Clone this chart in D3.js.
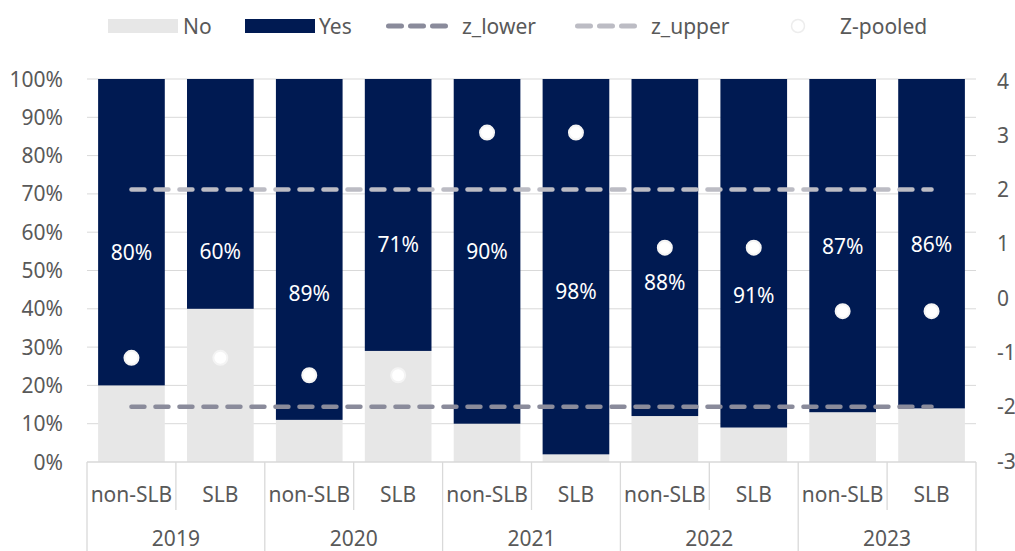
<!DOCTYPE html>
<html lang="en">
<head>
    <meta charset="UTF-8">
    <title>SLB vs non-SLB</title>
    <script src="https://d3js.org/d3.v7.min.js"></script>
    <style>
        body { margin: 0; background: #fff; font-family: 'Noto Sans', sans-serif; }
        .tick-label { font-size: 21px; fill: #595959; }
        .data-label { font-size: 21px; fill: #fff; text-anchor: middle; }
        .grid { stroke: #d9d9d9; stroke-width: 1; }
        .frame { stroke: #d9d9d9; stroke-width: 1.3; }
    </style>
</head>
<body>
    <div id="chart"></div>
    <script>
        const years = ["2019", "2020", "2021", "2022", "2023"];
        const groups = ["non-SLB", "SLB"];
        const yesShare = [80, 60, 89, 71, 90, 98, 88, 91, 87, 86];
        const zPooled = [-1.1, -1.1, -1.42, -1.42, 3.05, 3.05, 0.93, 0.93, -0.24, -0.24];
        const zLower = [-2, -2, -2, -2, -2, -2, -2, -2, -2, -2];
        const zUpper = [2, 2, 2, 2, 2, 2, 2, 2, 2, 2];
        // where the % labels sit, in left-axis percent
        const labelAt = [54.8, 55.1, 44.1, 56.7, 55.1, 44.6, 47, 43.6, 56.4, 56.9];
        const leftTicks = [0, 10, 20, 30, 40, 50, 60, 70, 80, 90, 100];
        const rightTicks = [-3, -2, -1, 0, 1, 2, 3, 4];

        const W = 1015, H = 551;
        const plot = {left: 87, right: 976, top: 79, bottom: 462};

        const cats = [];
        years.forEach(y => groups.forEach(g => cats.push({year: y, group: g})));
        cats.forEach((c, i) => {
            c.id = c.year + "-" + c.group;
            c.yes = yesShare[i];
            c.no = 100 - yesShare[i];
            c.z = zPooled[i];
            c.lo = zLower[i];
            c.hi = zUpper[i];
            c.lab = labelAt[i];
        });

        const svg = d3.select("#chart").append("svg")
            .attr("width", W).attr("height", H);

        const x = d3.scaleBand().domain(cats.map(c => c.id))
            .range([plot.left, plot.right]).paddingInner(0.25).paddingOuter(0.125);
        const y = d3.scaleLinear().domain([0, 100]).range([plot.bottom, plot.top]);
        const y2 = d3.scaleLinear().domain([-3, 4]).range([plot.bottom - 1, plot.top + 2]);
        const cx = d => x(d.id) + x.bandwidth() / 2;

        // gridlines
        svg.append("g").selectAll("line").data(leftTicks.slice(1)).join("line")
            .attr("class", "grid")
            .attr("x1", plot.left).attr("x2", plot.right)
            .attr("y1", d => y(d)).attr("y2", d => y(d));

        // left axis labels
        svg.append("g").selectAll("text").data(leftTicks).join("text")
            .attr("class", "tick-label")
            .attr("x", 63).attr("y", d => y(d)).attr("dy", "0.36em")
            .attr("text-anchor", "end")
            .text(d => d + "%");

        // right axis labels (secondary axis, runs off the page edge)
        svg.append("g").selectAll("text").data(rightTicks).join("text")
            .attr("class", "tick-label")
            .attr("x", 997).attr("y", d => y2(d)).attr("dy", "0.36em")
            .text(d => d);

        // bars
        const bars = svg.append("g").selectAll("g").data(cats).join("g");
        bars.append("rect")
            .attr("x", d => x(d.id)).attr("width", x.bandwidth())
            .attr("y", d => y(d.no)).attr("height", d => y(0) - y(d.no))
            .attr("fill", "#e7e7e7");
        bars.append("rect")
            .attr("x", d => x(d.id)).attr("width", x.bandwidth())
            .attr("y", d => y(100)).attr("height", d => y(d.no) - y(100))
            .attr("fill", "#001a52");
        bars.append("text")
            .attr("class", "data-label")
            .attr("x", cx).attr("y", d => y(d.lab)).attr("dy", "0.36em")
            .text(d => d.yes + "%");

        // threshold lines
        const line = key => d3.line().x(cx).y(d => y2(d[key]));
        svg.append("path").datum(cats).attr("d", line("lo"))
            .attr("fill", "none").attr("stroke", "#8a8b9b").attr("stroke-width", 4.5)
            .attr("stroke-linecap", "round").attr("stroke-dasharray", "13 11");
        svg.append("path").datum(cats).attr("d", line("hi"))
            .attr("fill", "none").attr("stroke", "#bcbcc4").attr("stroke-width", 4.5)
            .attr("stroke-linecap", "round").attr("stroke-dasharray", "13 11");

        // z-pooled points
        svg.append("g").selectAll("circle").data(cats).join("circle")
            .attr("cx", cx).attr("cy", d => y2(d.z)).attr("r", 7)
            .attr("fill", "#fff").attr("stroke", "#f4f4f4").attr("stroke-width", 2);

        // category axis frame
        const step = x.step();
        const fr = svg.append("g");
        fr.append("line").attr("class", "frame")
            .attr("x1", plot.left).attr("x2", plot.right)
            .attr("y1", plot.bottom).attr("y2", plot.bottom);
        d3.range(cats.length + 1).forEach(i => {
            const xx = plot.left + i * step;
            fr.append("line").attr("class", "frame")
                .attr("x1", xx).attr("x2", xx)
                .attr("y1", plot.bottom).attr("y2", i % 2 === 0 ? H : 510);
        });
        svg.append("g").selectAll("text").data(cats).join("text")
            .attr("class", "tick-label").attr("text-anchor", "middle")
            .attr("x", cx).attr("y", 494).attr("dy", "0.36em")
            .text(d => d.group);
        svg.append("g").selectAll("text").data(years).join("text")
            .attr("class", "tick-label").attr("text-anchor", "middle")
            .attr("x", (d, i) => plot.left + (i * 2 + 1) * step).attr("y", 538).attr("dy", "0.36em")
            .text(d => d);

        // legend
        const lg = svg.append("g").attr("class", "tick-label");
        const ly = 26;
        lg.append("rect").attr("x", 108).attr("y", ly - 7).attr("width", 70).attr("height", 14).attr("fill", "#e7e7e7");
        lg.append("text").attr("x", 183).attr("y", ly).attr("dy", "0.36em").text("No");
        lg.append("rect").attr("x", 245).attr("y", ly - 7).attr("width", 70).attr("height", 14).attr("fill", "#001a52");
        lg.append("text").attr("x", 319).attr("y", ly).attr("dy", "0.36em").text("Yes");
        lg.append("line").attr("x1", 388.5).attr("x2", 446).attr("y1", ly).attr("y2", ly)
            .attr("stroke", "#8a8b9b").attr("stroke-width", 5).attr("stroke-linecap", "round")
            .attr("stroke-dasharray", "13 9");
        lg.append("text").attr("x", 462).attr("y", ly).attr("dy", "0.36em").text("z_lower");
        lg.append("line").attr("x1", 577.5).attr("x2", 635).attr("y1", ly).attr("y2", ly)
            .attr("stroke", "#bcbcc4").attr("stroke-width", 5).attr("stroke-linecap", "round")
            .attr("stroke-dasharray", "13 9");
        lg.append("text").attr("x", 651).attr("y", ly).attr("dy", "0.36em").text("z_upper");
        lg.append("circle").attr("cx", 798).attr("cy", ly).attr("r", 6.5)
            .attr("fill", "#fff").attr("stroke", "#ededed").attr("stroke-width", 1.5);
        lg.append("text").attr("x", 840).attr("y", ly).attr("dy", "0.36em").text("Z-pooled");
    </script>
</body>
</html>
